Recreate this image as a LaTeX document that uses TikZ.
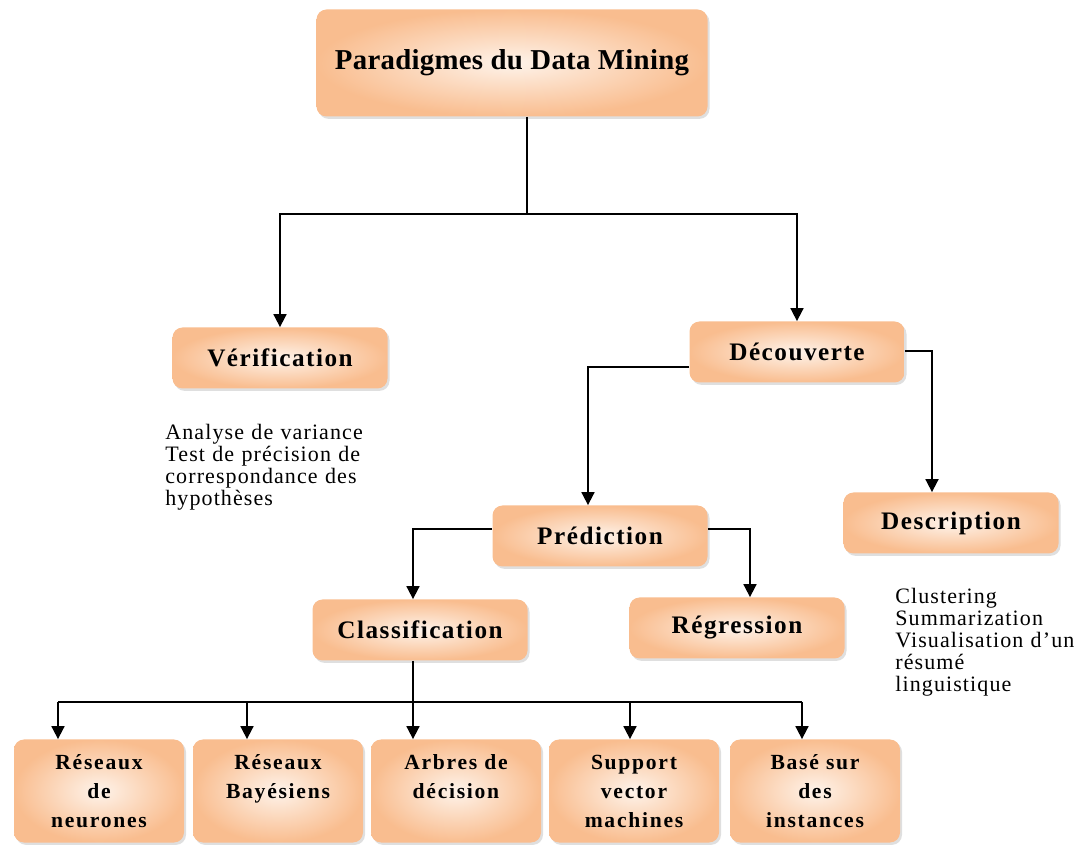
\documentclass[tikz,border=0pt]{standalone}
\usepackage{fontspec}
\setmainfont{Liberation Serif}
\usetikzlibrary{arrows.meta,shadows}
\definecolor{peche}{HTML}{FEF3EA}
\definecolor{orangebord}{HTML}{F9BD8F}

\begin{document}
\begin{tikzpicture}
[x = 0.5pt, y = -0.5pt,
 boite/.style = {shape = rectangle, rounded corners = 5pt, inner color = peche, outer color = orangebord,
   drop shadow = {opacity = 0.25, shadow xshift = 1pt, shadow yshift = -1.2pt},
   minimum width = 107.5pt, minimum height = 30.5pt, align = center,
   font = \bfseries\fontsize{12.6}{15}\selectfont\addfontfeature{LetterSpace=6}},
 titre/.style = {boite, minimum width = 195.5pt, minimum height = 53.5pt,
   font = \bfseries\fontsize{14.4}{17}\selectfont\addfontfeature{LetterSpace=1}},
 feuille/.style = {boite, minimum width = 85pt, minimum height = 51.5pt, inner sep = 2pt,
   font = \bfseries\fontsize{10.8}{14.5}\selectfont\addfontfeature{LetterSpace=8}},
 note/.style = {anchor = north west, inner sep = 0pt, align = left,
   font = \fontsize{11}{11}\selectfont\addfontfeature{LetterSpace=5}},
 fleche/.style = {line width = 0.9pt, -{Triangle[length = 6.5pt, width = 6.5pt]}},
 trait/.style = {line width = 0.9pt}]
\useasboundingbox (0,0) rectangle (1089,845);

\node[titre] (paradigmes) at (512,63) {Paradigmes du Data Mining};
\node[boite] (verification) at (280,358) {Vérification};
\node[boite] (decouverte) at (797,352) {Découverte};
\node[boite] (prediction) at (600,536) {Prédiction};
\node[boite] (description) at (951,523) {Description};
\node[boite] (classification) at (420,630) {Classification};
\node[boite] (regression) at (737,628) {Régression};

\node[feuille] (neurones) at (99,791) {Réseaux\\de\\neurones};
\node[feuille] (bayes) at (278,791) {Réseaux\\Bayésiens\\\mbox{}};
\node[feuille] (arbres) at (456,791) {Arbres de\\décision\\\mbox{}};
\node[feuille] (svm) at (634,791) {Support\\vector\\machines};
\node[feuille] (instances) at (815,791) {Basé sur\\des\\instances};

\node[note, text width = 100pt] (verifnote) at (165,424)
  {Analyse de variance\\\makebox[100pt][s]{Test de précision de}\\\makebox[100pt][s]{correspondance des}\\hypothèses};
\node[note, text width = 93pt] (descrnote) at (895,588)
  {Clustering\\Summarization\\\makebox[93pt][s]{Visualisation d’un}\\résumé\\linguistique};

\coordinate (j0) at (527,214);
\coordinate (j1) at (588,367);
\coordinate (j2) at (932,351);
\coordinate (j3) at (413,529);
\coordinate (j4) at (750,529);
\coordinate (k1) at (58,702);
\coordinate (k2) at (247,702);
\coordinate (k3) at (413,702);
\coordinate (k4) at (630,702);
\coordinate (k5) at (802,702);

\draw[trait] (paradigmes.south -| j0) -- (j0);
\draw[fleche] (j0) -| (verification.north);
\draw[fleche] (j0) -| (decouverte.north);
\draw[fleche] (j1 -| decouverte.west) -- (j1) -- (j1 |- prediction.north);
\draw[fleche] (j2 -| decouverte.east) -- (j2) -- (j2 |- description.north);
\draw[fleche] (j3 -| prediction.west) -- (j3) -- (j3 |- classification.north);
\draw[fleche] (j4 -| prediction.east) -- (j4) -- (j4 |- regression.north);
\draw[trait] (classification.south -| k3) -- (k3);
\draw[trait] (k1) -- (k5);
\draw[fleche] (k1) -- (k1 |- neurones.north);
\draw[fleche] (k2) -- (k2 |- bayes.north);
\draw[fleche] (k3) -- (k3 |- arbres.north);
\draw[fleche] (k4) -- (k4 |- svm.north);
\draw[fleche] (k5) -- (k5 |- instances.north);
\end{tikzpicture}
\end{document}
